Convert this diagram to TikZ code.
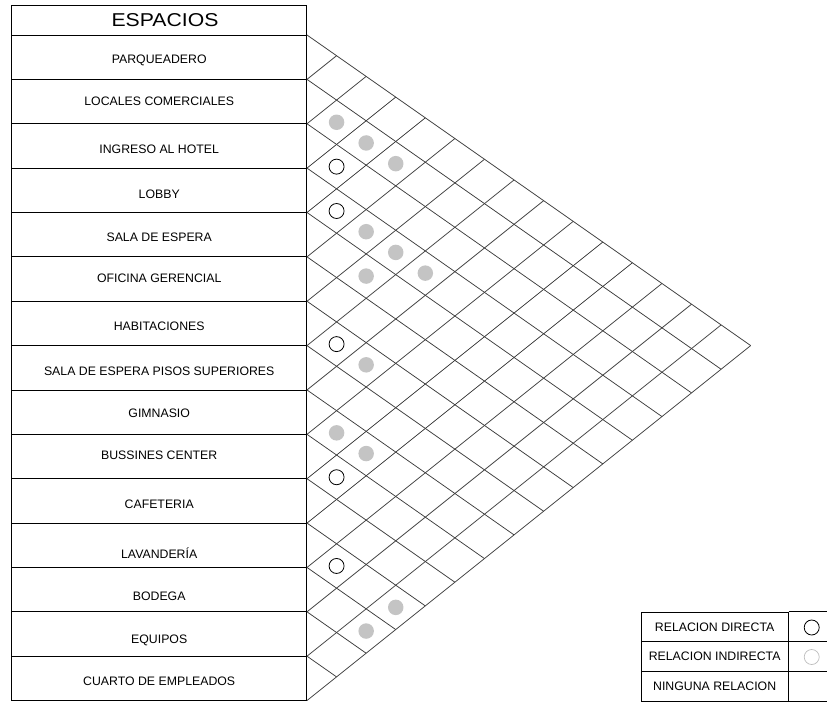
\documentclass[tikz,border=0pt]{standalone}
\usepackage{fontspec}
\setmainfont{Liberation Sans}
\usepackage{tikz}
\usepackage{xcolor}
\definecolor{gridink}{HTML}{3C3C3C}
\definecolor{dotgrey}{HTML}{C4C4C4}
\definecolor{ringgrey}{HTML}{BDBDBD}

\begin{document}
\begin{tikzpicture}[
    x=1pt, y=-1pt,
    row box/.style={rectangle,draw,line width=0.9pt,minimum width=295pt,minimum height=44.37pt,inner sep=0pt},
    head box/.style={rectangle,draw,line width=0.9pt,minimum width=295pt,minimum height=30pt,inner sep=0pt},
    row text/.style={anchor=base,inner sep=0pt,font=\fontsize{12.3}{14}\selectfont},
    key box/.style={rectangle,draw,line width=0.8pt,minimum width=147.3pt,minimum height=29.67pt,inner sep=0pt,font=\fontsize{12.3}{14}\selectfont},
    key line/.style={draw,line width=0.8pt},
    grid line/.style={draw=gridink,line width=0.75pt},
    direct/.style={circle,draw,line width=0.8pt,minimum size=15pt,inner sep=0pt},
    indirect/.style={circle,fill=dotgrey,minimum size=15.5pt,inner sep=0pt},
    key indirect/.style={circle,draw=ringgrey,line width=0.7pt,minimum size=15pt,inner sep=0pt}
  ]
  \useasboundingbox (0,0) rectangle (827,702);
  % espacios
  \node[head box] (hd) at (159.2,20) {};
  \node[inner sep=0pt,font=\fontsize{18.6}{22}\selectfont] (ht) at (165,20.5) {\scalebox{1.14}[1]{ESPACIOS}};
  \foreach \name/\ty [count=\k] in {PARQUEADERO/59.5, LOCALES COMERCIALES/100.8, INGRESO AL HOTEL/148.7,
      LOBBY/193.8, SALA DE ESPERA/237, OFICINA GERENCIAL/278, HABITACIONES/325.7,
      SALA DE ESPERA PISOS SUPERIORES/370.8, GIMNASIO/413.3, BUSSINES CENTER/454.7,
      CAFETERIA/504, LAVANDERÍA/554, BODEGA/596, EQUIPOS/639.3, CUARTO DE EMPLEADOS/681} {
    \node[row box] (r\k) at (159.2,{35+(\k-0.5)*44.37}) {};
    \node[row text] (t\k) at (159.2,{\ty+4.4}) {\name};
  }
  % matriz
  \foreach \k in {0,...,15} {
    \draw[grid line] (307,{35+\k*44.37}) -- ++({(15-\k)*29.58},{(15-\k)*20.706});
    \draw[grid line] (307,{35+\k*44.37}) -- ++({\k*29.58},{-\k*23.664});
  }
  \foreach \i/\j [count=\n] in {3/4, 4/5, 7/8, 10/11, 12/13}
    \node[direct] (d\n) at ({307+(\j-\i)*29.58},{35+(\i-0.5)*44.37+(\j-\i)*20.706}) {};
  \foreach \i/\j [count=\n] in {2/3, 2/4, 2/5, 4/6, 4/7, 5/7, 4/8, 7/9, 9/10, 9/11, 12/15, 13/15}
    \node[indirect] (g\n) at ({307+(\j-\i)*29.58},{35+(\i-0.5)*44.37+(\j-\i)*20.706}) {};
  % convenciones
  \node[key box] (k1) at (714.65,626.8) {RELACION DIRECTA};
  \node[key box] (k2) at (714.65,656.5) {RELACION INDIRECTA};
  \node[key box] (k3) at (714.65,686.2) {NINGUNA RELACION};
  \draw[key line] (k1.north east) -- ++(38.7,0);
  \draw[key line] (k2.north east) -- ++(38.7,0);
  \draw[key line] (k3.north east) -- ++(38.7,0);
  \draw[key line] (k3.south east) -- ++(38.7,0);
  \node[direct] (kd) at (811.7,627.5) {};
  \node[key indirect] (ki) at (811.7,657) {};
\end{tikzpicture}
\end{document}
